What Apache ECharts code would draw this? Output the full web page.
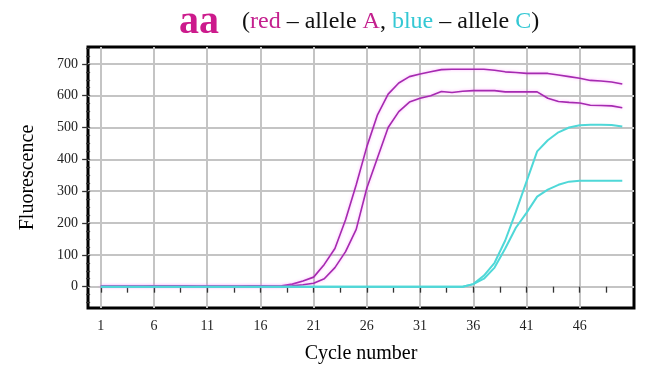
<!DOCTYPE html>
<html><head><meta charset="utf-8">
<script src="https://cdn.jsdelivr.net/npm/echarts@6/dist/echarts.min.js"></script>
<style>html,body{margin:0;padding:0;background:#fff}#c{width:645px;height:373px}</style>
</head><body><div id="c"></div>
<script>
// Cycle numbers
const cycles = [1,2,3,4,5,6,7,8,9,10,11,12,13,14,15,16,17,18,19,20,21,22,23,24,25,26,27,28,29,30,31,32,33,34,35,36,37,38,39,40,41,42,43,44,45,46,47,48,49,50];
// red – allele A (two curves)
const alleleA_1 = [2,2,2,2,2,3,3,3,3,2,2,2,2,2,3,3,2,3,8,18,30,70,120,210,320,440,540,605,640,660,668,675,682,683,683,683,683,680,675,673,670,670,670,665,660,655,648,646,643,637];
const alleleA_2 = [1,1,1,1,1,1,1,1,1,1,1,1,1,1,1,1,1,1,3,6,11,25,60,110,180,310,405,500,550,580,592,600,613,610,614,616,616,616,612,612,612,612,592,582,579,577,570,569,568,562];
// blue – allele C (two curves)
const alleleC_1 = [0,0,0,0,0,0,0,0,0,0,0,0,0,0,0,0,0,0,0,0,0,0,0,0,0,0,0,0,0,0,0,0,0,0,0,8,35,75,145,235,330,425,460,485,500,507,509,509,508,503];
const alleleC_2 = [0,0,0,0,0,0,0,0,0,0,0,0,0,0,0,0,0,0,0,0,0,0,0,0,0,0,0,0,0,0,0,0,0,0,0,8,25,60,120,185,232,283,305,320,330,333,333,333,333,333];
// tick labels
const xTickLabels = [1,6,11,16,21,26,31,36,41,46];
const xMinorTicks = [3.5,8.5,13.5,18.5,23.5,28.5,33.5,38.5,43.5,48.5];
const yTickLabels = [0,100,200,300,400,500,600,700];
const yMinorTicks = [-50,-25,25,50,75,125,150,175,225,250,275,325,350,375,425,450,475,525,550,575,625,650,675,725,750];

const SERIF = '"Liberation Serif", "Times New Roman", serif';
const MAG = '#a52ab0', CYAN = '#4fd8d8';
const xMin = -0.2, xMax = 51.1, yMin = -67, yMax = 753;

function pts(vals){ return cycles.map((c,i)=>[c, vals[i]]); }

const chart = echarts.init(document.getElementById('c'), null, {renderer:'canvas'});
const tickStyle = {color:'#333', width:1.3};
chart.setOption({
  animation:false,
  backgroundColor:'#fff',
  title:[
    {text:'aa', left:174, top:-2, textStyle:{fontFamily:SERIF, fontWeight:'bold', fontSize:40, color:'#cc1a8c'}},
    {text:'(' + '{r|red}' + ' – allele ' + '{r|A}' + ', ' + '{b|blue}' + ' – allele ' + '{b|C}' + ')',
     left:237, top:5,
     textStyle:{fontFamily:SERIF, fontWeight:'normal', fontSize:24, color:'#111',
       rich:{r:{fontFamily:SERIF, fontSize:24, color:'#c4208e'}, b:{fontFamily:SERIF, fontSize:24, color:'#34c8d4'}}}}
  ],
  grid:{left:88, right:11, top:47, bottom:65, show:true, borderColor:'#000', borderWidth:3, backgroundColor:'transparent'},
  xAxis:[
    {type:'value', min:xMin, max:xMax, position:'bottom',
     axisLine:{show:false},
     axisTick:{show:true, customValues:xTickLabels, length:6, lineStyle:tickStyle},
     axisLabel:{customValues:xTickLabels, margin:11, fontFamily:SERIF, fontSize:14, color:'#222'},
     splitLine:{show:true, lineStyle:{color:'#c4c4c4', width:2}},
     name:'Cycle number', nameLocation:'middle', nameGap:36,
     nameTextStyle:{fontFamily:SERIF, fontSize:20, color:'#000'}},
    {type:'value', min:xMin, max:xMax, position:'bottom', gridIndex:0,
     axisLine:{show:false},
     axisTick:{show:true, customValues:xMinorTicks, length:6, lineStyle:tickStyle},
     axisLabel:{show:false}, splitLine:{show:false}}
  ],
  yAxis:[
    {type:'value', min:yMin, max:yMax, position:'left',
     axisLine:{show:false},
     axisTick:{show:true, customValues:yTickLabels, length:8, lineStyle:tickStyle},
     axisLabel:{customValues:yTickLabels, margin:10, fontFamily:SERIF, fontSize:14, color:'#222'},
     splitLine:{show:true, lineStyle:{color:'#c4c4c4', width:2}},
     name:'Fluorescence', nameLocation:'middle', nameGap:50,
     nameTextStyle:{fontFamily:SERIF, fontSize:20, color:'#000'}},
    {type:'value', min:yMin, max:yMax, position:'left', offset:0,
     axisLine:{show:false},
     axisTick:{show:true, customValues:yMinorTicks, length:4, lineStyle:tickStyle},
     axisLabel:{show:false}, splitLine:{show:false}}
  ],
  series:[
    {type:'line', data:pts(alleleA_1), showSymbol:false, color:MAG, lineStyle:{width:1.6, color:MAG, shadowColor:'rgba(255,120,255,0.6)', shadowBlur:3}},
    {type:'line', data:pts(alleleA_2), showSymbol:false, color:MAG, lineStyle:{width:1.6, color:MAG, shadowColor:'rgba(255,120,255,0.6)', shadowBlur:3}},
    {type:'line', data:pts(alleleC_1), showSymbol:false, color:CYAN, lineStyle:{width:2, color:CYAN}},
    {type:'line', data:pts(alleleC_2), showSymbol:false, color:CYAN, lineStyle:{width:2, color:CYAN}}
  ]
});
</script></body></html>
